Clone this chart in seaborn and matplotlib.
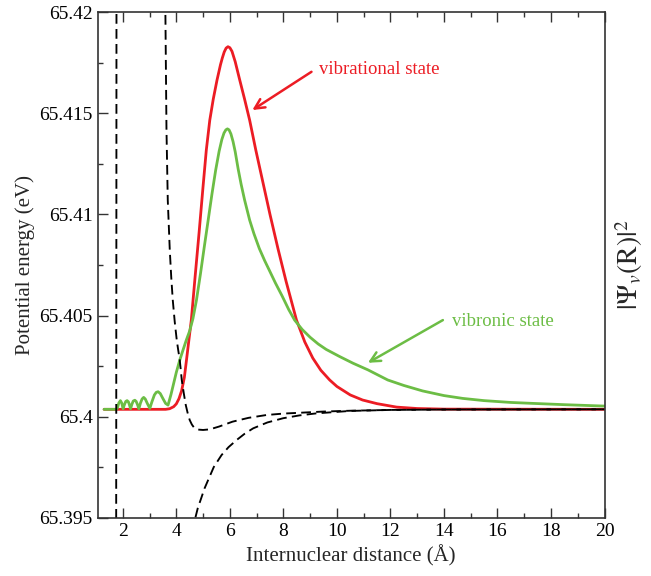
import matplotlib
matplotlib.use("Agg")
import matplotlib.pyplot as plt
import seaborn as sns
from matplotlib.ticker import MultipleLocator, FuncFormatter

# ---------------- data ----------------
vib_x = [1.30, 2.00, 3.00, 3.60, 3.75, 3.90, 4.00, 4.10, 4.20, 4.30, 4.38, 4.47,
         4.56, 4.70, 4.85, 5.00, 5.12, 5.25, 5.38, 5.52, 5.65, 5.72, 5.79, 5.86,
         5.93, 6.00, 6.08, 6.20, 6.37, 6.55, 6.74, 6.97, 7.20, 7.50, 7.80, 8.10,
         8.49, 8.80, 9.10, 9.40, 9.73, 10.00, 10.50, 10.96, 11.50, 12.23, 13.00,
         14.00, 20.00]
vib_y = [65.40037, 65.40037, 65.40037, 65.40037, 65.40040, 65.40050, 65.40064,
         65.40090, 65.40130, 65.40195, 65.40281, 65.40380, 65.40478, 65.40690,
         65.40910, 65.41140, 65.41318, 65.41466, 65.41570, 65.41664, 65.41740,
         65.41774, 65.41803, 65.41822, 65.41829, 65.41824, 65.41806, 65.41755,
         65.41664, 65.41570, 65.41466, 65.41318, 65.41180, 65.41000, 65.40830,
         65.40670, 65.40478, 65.40370, 65.40290, 65.40230, 65.40182, 65.40150,
         65.40108, 65.40083, 65.40065, 65.40048, 65.40041, 65.40038, 65.40037]

vibronic_x = [1.30, 1.76, 1.80, 1.85, 1.91, 1.96, 2.01, 2.06, 2.11, 2.16, 2.21,
              2.25, 2.29, 2.34, 2.39, 2.45, 2.50, 2.55, 2.60, 2.66, 2.72, 2.78,
              2.84, 2.92, 3.01, 3.09, 3.18, 3.25, 3.32, 3.40, 3.50, 3.60, 3.69,
              3.80, 3.90, 4.00, 4.13, 4.25, 4.37, 4.50, 4.62, 4.75, 4.90, 5.05,
              5.19, 5.33, 5.47, 5.60, 5.70, 5.78, 5.85, 5.91, 5.97, 6.04, 6.12,
              6.20, 6.31, 6.42, 6.55, 6.74, 6.90, 7.10, 7.30, 7.49, 7.70, 7.95,
              8.20, 8.42, 8.70, 9.00, 9.30, 9.60, 10.10, 10.60, 11.16, 11.90,
              12.50, 13.20, 14.00, 14.70, 15.50, 16.50, 17.20, 18.50, 20.00]
vibronic_y = [65.40037, 65.40037, 65.40045, 65.40068, 65.40080, 65.40068, 65.40040,
              65.40060, 65.40076, 65.40080, 65.40074, 65.40058, 65.40040, 65.40062,
              65.40078, 65.40082, 65.40076, 65.40060, 65.40040, 65.40068, 65.40088,
              65.40096, 65.40088, 65.40065, 65.40042, 65.40075, 65.40108, 65.40121,
              65.40124, 65.40115, 65.40090, 65.40066, 65.40058, 65.40110, 65.40165,
              65.40220, 65.40281, 65.40330, 65.40378, 65.40425, 65.40485, 65.40575,
              65.40705, 65.40845, 65.40972, 65.41100, 65.41219, 65.41313, 65.41370,
              65.41402, 65.41418, 65.41423, 65.41418, 65.41398, 65.41360, 65.41310,
              65.41225, 65.41150, 65.41072, 65.40972, 65.40905, 65.40832, 65.40772,
              65.40720, 65.40662, 65.40598, 65.40530, 65.40478, 65.40432, 65.40393,
              65.40360, 65.40333, 65.40298, 65.40265, 65.40232, 65.40182, 65.40155,
              65.40128, 65.40105, 65.40091, 65.40080, 65.40071, 65.40067, 65.40060,
              65.40053]

potA_x = [3.587, 3.632, 3.680, 3.720, 3.755, 3.810, 3.867, 3.940, 4.016, 4.070,
          4.128, 4.203, 4.280, 4.353, 4.430, 4.500, 4.580, 4.650, 4.800, 5.000,
          5.250, 5.600, 6.100, 6.700, 7.370, 8.000, 8.610, 9.500, 10.480, 12.00,
          14.00, 20.00]
potA_y = [65.42060, 65.41417, 65.41071, 65.40940, 65.40824, 65.40690, 65.40577,
          65.40470, 65.40379, 65.40330, 65.40281, 65.40182, 65.40115, 65.40058,
          65.40015, 65.39984, 65.39962, 65.39949, 65.39937, 65.39935, 65.39938,
          65.39952, 65.39976, 65.39995, 65.40009, 65.40016, 65.40020, 65.40026,
          65.40030, 65.40034, 65.40036, 65.40037]

potB_x = [1.765, 1.760, 1.750, 4.30, 4.50, 4.69, 4.80, 4.93, 5.05, 5.19, 5.40,
          5.69, 5.95, 6.25, 6.55, 6.87, 7.40, 7.99, 8.60, 9.23, 10.48, 12.00,
          14.00, 20.00]
potB_y = [65.4250, 65.4100, 65.3900, 65.3850, 65.3920, 65.39490, 65.39548,
          65.39598, 65.39645, 65.39688, 65.39752, 65.39811, 65.39850, 65.39885,
          65.39916, 65.39943, 65.39972, 65.39993, 65.40007, 65.40017, 65.40029,
          65.40034, 65.40036, 65.40037]

x_ticks = [2, 4, 6, 8, 10, 12, 14, 16, 18, 20]
y_ticks = [65.395, 65.4, 65.405, 65.41, 65.415, 65.42]

RED = "#ec1c24"
GREEN = "#6cbd45"

# ---------------- style ----------------
sns.set_style("ticks")
plt.rcParams["font.family"] = ["Liberation Serif", "DejaVu Serif"]
plt.rcParams["mathtext.fontset"] = "stix"

fig = plt.figure(figsize=(6.51, 5.76), dpi=100)
ax = fig.add_axes([0.150, 0.1007, 0.7786, 0.8783])

solid_kw = dict(linewidth=2.0, estimator=None, sort=False,
                solid_joinstyle="round", solid_capstyle="round")
sns.lineplot(x=vib_x, y=vib_y, ax=ax, color=RED, **solid_kw)
sns.lineplot(x=vibronic_x, y=vibronic_y, ax=ax, color=GREEN, **solid_kw)
dash = (0, (5.2, 2.8))
sns.lineplot(x=potA_x, y=potA_y, ax=ax, color="black", linewidth=1.35,
             linestyle=dash, estimator=None, sort=False)
sns.lineplot(x=potB_x, y=potB_y, ax=ax, color="black", linewidth=1.35,
             linestyle=dash, estimator=None, sort=False)

ax.set_xlim(1.06, 20)
ax.set_ylim(65.395, 65.42)
ax.set_xticks(x_ticks)
ax.set_yticks(y_ticks)
ax.xaxis.set_minor_locator(MultipleLocator(1))
ax.yaxis.set_minor_locator(MultipleLocator(0.0025))
ax.yaxis.set_major_formatter(FuncFormatter(lambda v, p: f"{v:g}"))
ax.xaxis.set_major_formatter(FuncFormatter(lambda v, p: f"{v:g}"))
ax.tick_params(which="both", direction="in", top=True, right=False,
               colors="#333333", labelcolor="black", labelsize=14)
ax.tick_params(which="major", length=7, width=1.0)
ax.tick_params(which="minor", length=3.6, width=1.0)
for s in ax.spines.values():
    s.set_visible(True)
    s.set_color("#333333")
    s.set_linewidth(1.2)

ax.set_xlabel("Internuclear distance (Å)", fontsize=15, labelpad=4)
ax.set_ylabel("Potential energy (eV)", fontsize=15, labelpad=3)

# annotations
ax.annotate("", xy=(6.84, 65.41516), xytext=(9.05, 65.41705),
            arrowprops=dict(arrowstyle="->,head_length=0.7,head_width=0.35",
                            color=RED, lw=1.8, shrinkA=0, shrinkB=0))
ax.text(9.32, 65.41718, "vibrational state", color=RED, fontsize=13.5,
        ha="left", va="center")
ax.annotate("", xy=(11.16, 65.40267), xytext=(13.96, 65.40478),
            arrowprops=dict(arrowstyle="->,head_length=0.7,head_width=0.35",
                            color=GREEN, lw=1.8, shrinkA=0, shrinkB=0))
ax.text(14.31, 65.40470, "vibronic state", color=GREEN, fontsize=13.5,
        ha="left", va="center")

fig.text(0.966, 0.54, r"$|\Psi_{v}(\mathrm{R})|^{2}$", rotation=90,
         fontsize=20, ha="center", va="center")

fig.savefig("out.png", dpi=100)
